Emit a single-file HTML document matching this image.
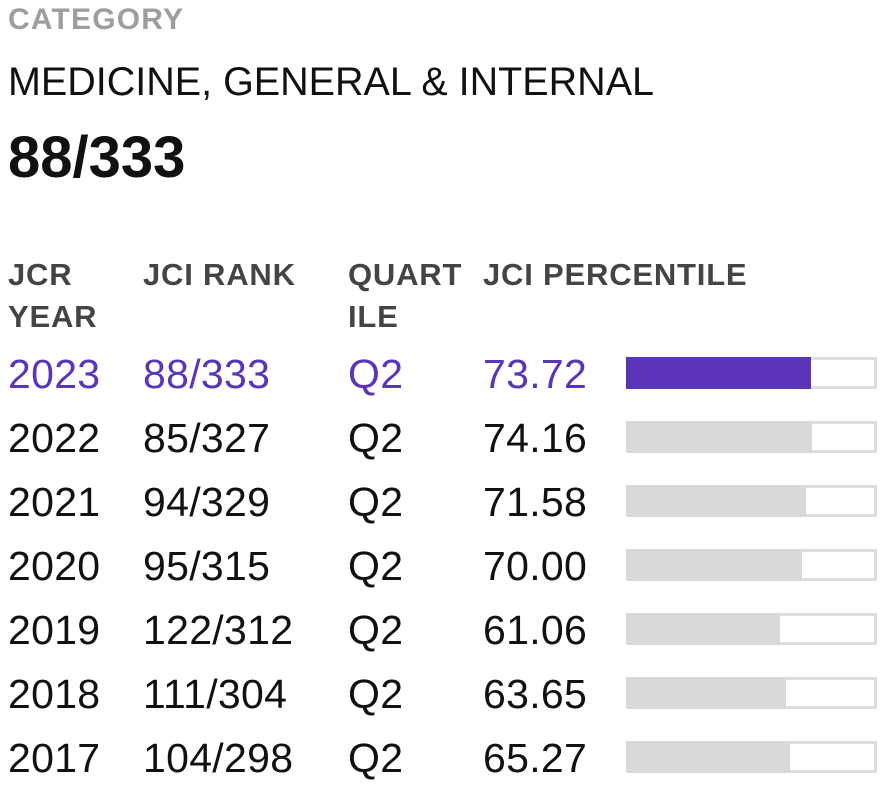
<!DOCTYPE html>
<html><head><meta charset="utf-8"><style>
body{margin:0;width:892px;height:786px;background:#fff;position:relative;overflow:hidden;font-family:"Liberation Sans",sans-serif;}
.t{position:absolute;line-height:1;white-space:nowrap;}
.h{font-size:31px;font-weight:bold;color:#444;letter-spacing:0.8px;}
.r{font-size:41px;color:#111;letter-spacing:0.3px;}
.p{color:#5a35b8;}
.bar{position:absolute;left:626px;width:251px;height:32px;box-sizing:border-box;border:3px solid #ddd;background:#fff;}
.bar i{position:absolute;left:-3px;top:-3px;bottom:-3px;background:#d9d9d9;}
</style></head><body>
<div class="t" style="left:8px;top:5px;font-size:30px;font-weight:bold;color:#9e9e9e;letter-spacing:1.2px">CATEGORY</div>
<div class="t" style="left:8px;top:63px;font-size:39.5px;color:#111">MEDICINE, GENERAL &amp; INTERNAL</div>
<div class="t" style="left:8px;top:129px;font-size:58px;font-weight:bold;color:#111">88/333</div>

<div class="t h" style="left:8px;top:259px">JCR</div>
<div class="t h" style="left:8px;top:301px">YEAR</div>
<div class="t h" style="left:143px;top:259px">JCI RANK</div>
<div class="t h" style="left:348px;top:259px">QUART</div>
<div class="t h" style="left:348px;top:301px">ILE</div>
<div class="t h" style="left:483px;top:259px">JCI PERCENTILE</div>

<div class="t r p" style="left:8px;top:354px">2023</div><div class="t r p" style="left:143px;top:354px">88/333</div><div class="t r p" style="left:348px;top:354px">Q2</div><div class="t r p" style="left:483px;top:354px">73.72</div>
<div class="bar" style="top:357px"><i style="width:185px;background:#5a35b8"></i></div>

<div class="t r" style="left:8px;top:418px">2022</div><div class="t r" style="left:143px;top:418px">85/327</div><div class="t r" style="left:348px;top:418px">Q2</div><div class="t r" style="left:483px;top:418px">74.16</div>
<div class="bar" style="top:421px"><i style="width:186px"></i></div>

<div class="t r" style="left:8px;top:482px">2021</div><div class="t r" style="left:143px;top:482px">94/329</div><div class="t r" style="left:348px;top:482px">Q2</div><div class="t r" style="left:483px;top:482px">71.58</div>
<div class="bar" style="top:485px"><i style="width:180px"></i></div>

<div class="t r" style="left:8px;top:546px">2020</div><div class="t r" style="left:143px;top:546px">95/315</div><div class="t r" style="left:348px;top:546px">Q2</div><div class="t r" style="left:483px;top:546px">70.00</div>
<div class="bar" style="top:549px"><i style="width:176px"></i></div>

<div class="t r" style="left:8px;top:610px">2019</div><div class="t r" style="left:143px;top:610px">122/312</div><div class="t r" style="left:348px;top:610px">Q2</div><div class="t r" style="left:483px;top:610px">61.06</div>
<div class="bar" style="top:613px"><i style="width:154px"></i></div>

<div class="t r" style="left:8px;top:674px">2018</div><div class="t r" style="left:143px;top:674px">111/304</div><div class="t r" style="left:348px;top:674px">Q2</div><div class="t r" style="left:483px;top:674px">63.65</div>
<div class="bar" style="top:677px"><i style="width:160px"></i></div>

<div class="t r" style="left:8px;top:738px">2017</div><div class="t r" style="left:143px;top:738px">104/298</div><div class="t r" style="left:348px;top:738px">Q2</div><div class="t r" style="left:483px;top:738px">65.27</div>
<div class="bar" style="top:741px"><i style="width:164px"></i></div>
</body></html>
